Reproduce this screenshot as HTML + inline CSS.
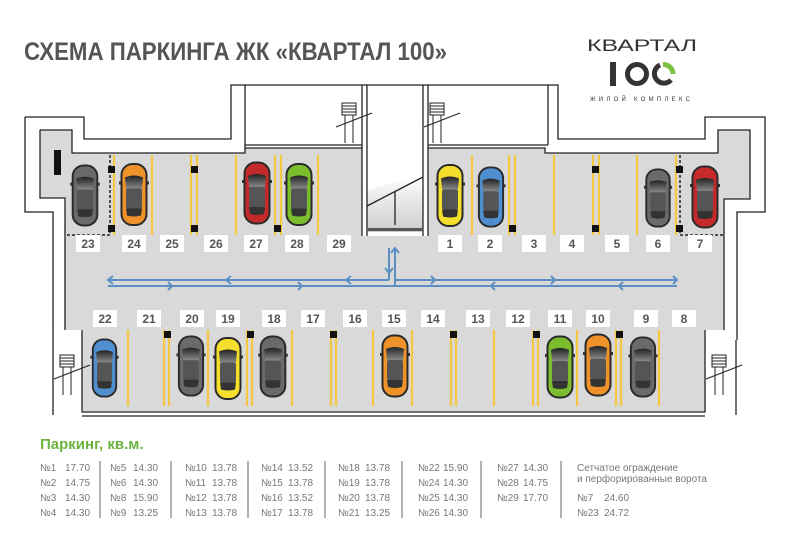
<!DOCTYPE html>
<html><head><meta charset="utf-8"><style>
html,body{margin:0;padding:0;background:#fff;}
svg{display:block;}
.t{font-family:"Liberation Sans Narrow","Liberation Sans",sans-serif;}
.lb{font-family:"Liberation Sans",sans-serif;font-weight:bold;font-size:12px;fill:#555;text-anchor:middle;}
.lg{font-family:"Liberation Sans Narrow","Liberation Sans",sans-serif;font-size:10px;fill:#777;}
</style></head><body>
<svg width="788" height="548" viewBox="0 0 788 548" xmlns="http://www.w3.org/2000/svg">
<defs>
<linearGradient id="ws" x1="0" y1="0" x2="0" y2="1"><stop offset="0" stop-color="#222"/><stop offset="1" stop-color="#888"/></linearGradient>
<linearGradient id="rp" x1="0" y1="0" x2="0" y2="1"><stop offset="0" stop-color="#fff"/><stop offset="1" stop-color="#ccc"/></linearGradient>
<symbol id="car" viewBox="0 0 30 64">
<rect x="0" y="19" width="4" height="3" fill="#333"/><rect x="26" y="19" width="4" height="3" fill="#333"/>
<rect x="2.5" y="1.5" width="25" height="61" rx="11" fill="currentColor" stroke="#2a2a2a" stroke-width="2"/>
<path d="M6 15 Q15 11 24 15 L23 26 L7 26 Z" fill="url(#ws)"/>
<rect x="7" y="26" width="16" height="20" rx="2" fill="#555"/>
<path d="M7 46 L23 46 L22 53 Q15 55 8 53 Z" fill="#333"/>
</symbol>
<g id="stair" fill="none" stroke="#222" stroke-width="1">
<rect x="0" y="0" width="14" height="12"/><line x1="0" y1="3" x2="14" y2="3"/><line x1="0" y1="6" x2="14" y2="6"/><line x1="0" y1="9" x2="14" y2="9"/>
<line x1="3" y1="12" x2="3" y2="40"/><line x1="11" y1="12" x2="11" y2="40"/><line x1="-6" y1="24" x2="30" y2="10"/>
</g>
</defs>

<!-- title -->
<text x="24" y="60" class="t" font-weight="bold" font-size="25" fill="#555" textLength="423" lengthAdjust="spacingAndGlyphs">СХЕМА ПАРКИНГА ЖК «КВАРТАЛ 100»</text>

<!-- logo -->
<text x="587" y="51" font-family="Liberation Sans,sans-serif" font-size="17" fill="#333" textLength="110" lengthAdjust="spacingAndGlyphs">КВАРТАЛ</text>
<rect x="610" y="62" width="6" height="24" fill="#333"/>
<circle cx="637" cy="74" r="9.5" fill="none" stroke="#333" stroke-width="5"/>
<path d="M671 80 A9.5 9.5 0 1 1 660 65" fill="none" stroke="#333" stroke-width="5"/>
<path d="M663 64.5 A9.5 9.5 0 0 1 673 74" fill="none" stroke="#7cc242" stroke-width="5"/>
<text x="590" y="101" font-family="Liberation Sans,sans-serif" font-size="6" fill="#333" textLength="100" lengthAdjust="spacing">ЖИЛОЙ  КОМПЛЕКС</text>

<!-- floor -->
<polygon fill="#d9d9d9" points="40,130 72,130 72,153 245,153 245,148 362,148 362,236 428,236 428,148 545,148 545,153 718,153 718,130 750,130 750,199 724,199 724,330 705,330 705,412 82,412 82,330 65,330 65,198 40,198"/>
<polygon fill="url(#rp)" points="367,190 423,175 423,232 367,232"/>
<!-- walls -->
<g fill="none" stroke="#222" stroke-width="1.3">
<polyline points="25,117 84,117 84,139 231,139 231,85 558,85 558,139 705,139 705,117 765,117 765,212 737,212 737,340"/>
<polyline points="25,117 25,212 53,212 53,330"/>
<polyline points="40,130 72,130 72,153 245,153 245,148 362,148 362,236"/>
<polyline points="40,130 40,198 65,198 65,330"/>
<polyline points="428,236 428,148 545,148 545,153 718,153 718,130 750,130 750,199 724,199 724,330"/>
<line x1="245" y1="85" x2="245" y2="148"/><line x1="245" y1="145" x2="362" y2="145"/>
<line x1="367" y1="85" x2="367" y2="236"/><line x1="423" y1="85" x2="423" y2="236"/>
<line x1="362" y1="85" x2="362" y2="148"/><line x1="428" y1="85" x2="428" y2="148"/>
<line x1="428" y1="145" x2="548" y2="145"/><line x1="548" y1="85" x2="548" y2="145"/>
<line x1="367" y1="206" x2="423" y2="177"/><line x1="395" y1="192" x2="395" y2="225"/>
<polyline points="82,330 82,412 705,412 705,330"/>
<line x1="53" y1="330" x2="53" y2="415"/><line x1="736" y1="340" x2="736" y2="415"/>
<line x1="82" y1="416" x2="705" y2="416"/>
</g>
<rect x="368" y="228" width="54" height="3" fill="#555"/>
<use href="#stair" x="342" y="103"/><use href="#stair" x="430" y="103"/>
<use href="#stair" x="60" y="355"/><use href="#stair" x="712" y="355"/>
<rect x="54" y="150" width="7" height="25" fill="#111"/>

<!-- yellow lines top -->
<g stroke="#f5c842" stroke-width="2.2">
<line x1="114" y1="155" x2="114" y2="235"/><line x1="152" y1="155" x2="152" y2="235"/>
<line x1="191" y1="155" x2="191" y2="235"/><line x1="197" y1="155" x2="197" y2="235"/>
<line x1="236" y1="155" x2="236" y2="235"/><line x1="275" y1="155" x2="275" y2="235"/><line x1="281" y1="155" x2="281" y2="235"/>
<line x1="318" y1="155" x2="318" y2="235"/>
<line x1="472" y1="155" x2="472" y2="235"/><line x1="509" y1="155" x2="509" y2="235"/><line x1="515" y1="155" x2="515" y2="235"/>
<line x1="554" y1="155" x2="554" y2="235"/><line x1="593" y1="155" x2="593" y2="235"/><line x1="599" y1="155" x2="599" y2="235"/>
<line x1="637" y1="155" x2="637" y2="235"/><line x1="676" y1="155" x2="676" y2="235"/>
<!-- bottom -->
<line x1="128" y1="330" x2="128" y2="406"/><line x1="164" y1="330" x2="164" y2="406"/><line x1="169" y1="330" x2="169" y2="406"/>
<line x1="208" y1="330" x2="208" y2="406"/><line x1="247" y1="330" x2="247" y2="406"/><line x1="252" y1="330" x2="252" y2="406"/>
<line x1="292" y1="330" x2="292" y2="406"/><line x1="331" y1="330" x2="331" y2="406"/><line x1="336" y1="330" x2="336" y2="406"/>
<line x1="373" y1="330" x2="373" y2="406"/><line x1="412" y1="330" x2="412" y2="406"/>
<line x1="451" y1="330" x2="451" y2="406"/><line x1="456" y1="330" x2="456" y2="406"/>
<line x1="494" y1="330" x2="494" y2="406"/><line x1="533" y1="330" x2="533" y2="406"/><line x1="538" y1="330" x2="538" y2="406"/>
<line x1="577" y1="330" x2="577" y2="406"/><line x1="616" y1="330" x2="616" y2="406"/><line x1="621" y1="330" x2="621" y2="406"/>
<line x1="659" y1="330" x2="659" y2="406"/>
</g>
<g stroke="#222" stroke-width="1.5" stroke-dasharray="3,2" fill="none">
<polyline points="110,155 110,235 65,235"/><polyline points="680,155 680,235 724,235"/>
</g>
<g fill="#111">
<rect x="108" y="166" width="7" height="7"/><rect x="108" y="225" width="7" height="7"/>
<rect x="191" y="166" width="7" height="7"/><rect x="191" y="225" width="7" height="7"/><rect x="274" y="225" width="7" height="7"/>
<rect x="509" y="225" width="7" height="7"/><rect x="592" y="166" width="7" height="7"/><rect x="592" y="225" width="7" height="7"/>
<rect x="676" y="166" width="7" height="7"/><rect x="676" y="225" width="7" height="7"/>
<rect x="164" y="331" width="7" height="7"/><rect x="247" y="331" width="7" height="7"/><rect x="330" y="331" width="7" height="7"/>
<rect x="450" y="331" width="7" height="7"/><rect x="533" y="331" width="7" height="7"/><rect x="616" y="331" width="7" height="7"/>
</g>

<!-- cars -->
<g>
<use href="#car" x="70" y="164" width="30" height="63" color="#6a6a6a"/>
<use href="#car" x="119" y="162" width="30" height="65" color="#f0922a"/>
<use href="#car" x="242" y="160" width="30" height="66" color="#c42a2a"/>
<use href="#car" x="284" y="162" width="30" height="65" color="#7cbd2e"/>
<use href="#car" x="435" y="163" width="30" height="65" color="#f4e02c"/>
<use href="#car" x="476" y="166" width="30" height="62" color="#4f8fcf"/>
<use href="#car" x="643" y="168" width="30" height="60" color="#6a6a6a"/>
<use href="#car" x="690" y="165" width="30" height="64" color="#c42a2a"/>
<use href="#car" x="90" y="338" width="29" height="60" color="#4f8fcf"/>
<use href="#car" x="176" y="335" width="30" height="62" color="#6a6a6a"/>
<use href="#car" x="213" y="335" width="30" height="67" color="#f4e02c"/>
<use href="#car" x="258" y="335" width="30" height="63" color="#6a6a6a"/>
<use href="#car" x="380" y="332" width="30" height="68" color="#f0922a"/>
<use href="#car" x="545" y="334" width="30" height="66" color="#7cbd2e"/>
<use href="#car" x="583" y="332" width="30" height="66" color="#f0922a"/>
<use href="#car" x="628" y="336" width="30" height="62" color="#6a6a6a"/>
</g>

<!-- arrows -->
<g stroke="#5b8fc4" stroke-width="2" fill="none">
<line x1="108" y1="280" x2="389" y2="280"/><line x1="395" y1="280" x2="677" y2="280"/>
<line x1="108" y1="286" x2="677" y2="286"/>
<line x1="389" y1="248" x2="389" y2="280"/><line x1="395" y1="248" x2="395" y2="286"/>
<polyline points="113,276 108,280 113,284"/><polyline points="231,276 226,280 231,284"/><polyline points="351,276 346,280 351,284"/>
<polyline points="168,282 172,286 168,290"/><polyline points="298,282 302,286 298,290"/>
<polyline points="431,276 435,280 431,284"/><polyline points="551,276 555,280 551,284"/><polyline points="673,276 677,280 673,284"/>
<polyline points="495,282 491,286 495,290"/><polyline points="623,282 619,286 623,290"/>
<polyline points="385,268 389,273 393,268"/><polyline points="391,253 395,248 399,253"/>
</g>

<!-- labels -->
<g>
<g fill="#fff">
<rect x="76" y="235" width="24" height="17"/><rect x="122" y="235" width="24" height="17"/><rect x="160" y="235" width="24" height="17"/><rect x="204" y="235" width="24" height="17"/><rect x="244" y="235" width="24" height="17"/><rect x="285" y="235" width="24" height="17"/><rect x="327" y="235" width="24" height="17"/>
<rect x="438" y="235" width="24" height="17"/><rect x="478" y="235" width="24" height="17"/><rect x="522" y="235" width="24" height="17"/><rect x="560" y="235" width="24" height="17"/><rect x="605" y="235" width="24" height="17"/><rect x="646" y="235" width="24" height="17"/><rect x="688" y="235" width="24" height="17"/>
<rect x="93" y="310" width="24" height="17"/><rect x="137" y="310" width="24" height="17"/><rect x="180" y="310" width="24" height="17"/><rect x="216" y="310" width="24" height="17"/><rect x="262" y="310" width="24" height="17"/><rect x="301" y="310" width="24" height="17"/><rect x="343" y="310" width="24" height="17"/><rect x="382" y="310" width="24" height="17"/><rect x="421" y="310" width="24" height="17"/><rect x="466" y="310" width="24" height="17"/><rect x="506" y="310" width="24" height="17"/><rect x="548" y="310" width="24" height="17"/><rect x="586" y="310" width="24" height="17"/><rect x="634" y="310" width="24" height="17"/><rect x="672" y="310" width="24" height="17"/>
</g>
<text class="lb" x="88" y="248">23</text><text class="lb" x="134" y="248">24</text><text class="lb" x="172" y="248">25</text><text class="lb" x="216" y="248">26</text><text class="lb" x="256" y="248">27</text><text class="lb" x="297" y="248">28</text><text class="lb" x="339" y="248">29</text>
<text class="lb" x="450" y="248">1</text><text class="lb" x="490" y="248">2</text><text class="lb" x="534" y="248">3</text><text class="lb" x="572" y="248">4</text><text class="lb" x="617" y="248">5</text><text class="lb" x="658" y="248">6</text><text class="lb" x="700" y="248">7</text>
<text class="lb" x="105" y="323">22</text><text class="lb" x="149" y="323">21</text><text class="lb" x="192" y="323">20</text><text class="lb" x="228" y="323">19</text><text class="lb" x="274" y="323">18</text><text class="lb" x="313" y="323">17</text><text class="lb" x="355" y="323">16</text><text class="lb" x="394" y="323">15</text><text class="lb" x="433" y="323">14</text><text class="lb" x="478" y="323">13</text><text class="lb" x="518" y="323">12</text><text class="lb" x="560" y="323">11</text><text class="lb" x="598" y="323">10</text><text class="lb" x="646" y="323">9</text><text class="lb" x="684" y="323">8</text>
</g>

<!-- legend -->
<text x="40" y="449" class="t" font-weight="bold" font-size="15" fill="#6cb33f">Паркинг, кв.м.</text>
<g stroke="#666" stroke-width="1">
<line x1="100" y1="461" x2="100" y2="518"/><line x1="171" y1="461" x2="171" y2="518"/><line x1="248" y1="461" x2="248" y2="518"/><line x1="325" y1="461" x2="325" y2="518"/><line x1="402" y1="461" x2="402" y2="518"/><line x1="481" y1="461" x2="481" y2="518"/><line x1="561" y1="461" x2="561" y2="518"/>
</g>
<g class="lg">
<text x="40" y="471">№1</text><text x="65" y="471">17.70</text><text x="40" y="486">№2</text><text x="65" y="486">14.75</text><text x="40" y="501">№3</text><text x="65" y="501">14.30</text><text x="40" y="516">№4</text><text x="65" y="516">14.30</text>
<text x="110" y="471">№5</text><text x="133" y="471">14.30</text><text x="110" y="486">№6</text><text x="133" y="486">14.30</text><text x="110" y="501">№8</text><text x="133" y="501">15.90</text><text x="110" y="516">№9</text><text x="133" y="516">13.25</text>
<text x="185" y="471">№10</text><text x="212" y="471">13.78</text><text x="185" y="486">№11</text><text x="212" y="486">13.78</text><text x="185" y="501">№12</text><text x="212" y="501">13.78</text><text x="185" y="516">№13</text><text x="212" y="516">13.78</text>
<text x="261" y="471">№14</text><text x="288" y="471">13.52</text><text x="261" y="486">№15</text><text x="288" y="486">13.78</text><text x="261" y="501">№16</text><text x="288" y="501">13.52</text><text x="261" y="516">№17</text><text x="288" y="516">13.78</text>
<text x="338" y="471">№18</text><text x="365" y="471">13.78</text><text x="338" y="486">№19</text><text x="365" y="486">13.78</text><text x="338" y="501">№20</text><text x="365" y="501">13.78</text><text x="338" y="516">№21</text><text x="365" y="516">13.25</text>
<text x="418" y="471">№22</text><text x="443" y="471">15.90</text><text x="418" y="486">№24</text><text x="443" y="486">14.30</text><text x="418" y="501">№25</text><text x="443" y="501">14.30</text><text x="418" y="516">№26</text><text x="443" y="516">14.30</text>
<text x="497" y="471">№27</text><text x="523" y="471">14.30</text><text x="497" y="486">№28</text><text x="523" y="486">14.75</text><text x="497" y="501">№29</text><text x="523" y="501">17.70</text>
<text x="577" y="471">Сетчатое ограждение</text><text x="577" y="482">и перфорированные ворота</text>
<text x="577" y="501">№7</text><text x="604" y="501">24.60</text><text x="577" y="516">№23</text><text x="604" y="516">24.72</text>
</g>
</svg>
</body></html>
